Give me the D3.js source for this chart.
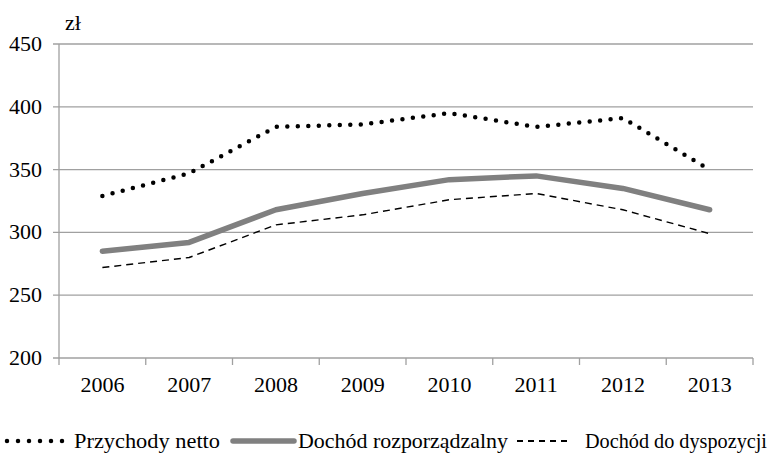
<!DOCTYPE html>
<html><head><meta charset="utf-8">
<script src="https://cdn.jsdelivr.net/npm/d3@7"></script>
</head>
<body style="margin:0">
<svg id="chart" width="774" height="458"></svg>
<script>
// data
var years = ["2006", "2007", "2008", "2009", "2010", "2011", "2012", "2013"];
var przychodyNetto = [329, 347, 384, 386, 395, 384, 391, 350];
var dochodRozporzadzalny = [285, 292, 318, 331, 342, 345, 335, 318];
var dochodDoDyspozycji = [272, 280, 306, 314, 326, 331, 318, 299];
var yTicks = [200, 250, 300, 350, 400, 450];

var FONT = "Liberation Serif";

var svgWidth = 774;
var svgHeight = 458;
var margin = { top: 44, right: 21, left: 59 };
var width = svgWidth - margin.left - margin.right;
var height = 358 - margin.top;

var svg = d3.select("#chart");

var g = svg.append("g")
  .attr("transform", `translate(${margin.left}, ${margin.top})`);

var x = d3.scaleBand().domain(years).range([0, width]);
var y = d3.scaleLinear().domain([200, 450]).range([height, 0]);

// gridlines
g.selectAll("line.grid")
  .data(yTicks)
  .join("line")
  .attr("x1", -6).attr("x2", width)
  .attr("y1", function (d) { return y(d); })
  .attr("y2", function (d) { return y(d); })
  .attr("stroke", "#a0a0a0").attr("stroke-width", 1.3);

// y labels
g.selectAll("text.ylab")
  .data(yTicks)
  .join("text")
  .attr("x", -17)
  .attr("y", function (d) { return y(d) + 7; })
  .attr("text-anchor", "end")
  .attr("font-size", 22)
  .attr("font-family", FONT)
  .text(function (d) { return d; });

// left axis line
g.append("line")
  .attr("x1", 0).attr("x2", 0).attr("y1", 0).attr("y2", height)
  .attr("stroke", "#a0a0a0").attr("stroke-width", 1.3);

// x ticks between categories
g.selectAll("line.xtick")
  .data(d3.range(years.length + 1))
  .join("line")
  .attr("x1", function (i) { return i * x.step(); })
  .attr("x2", function (i) { return i * x.step(); })
  .attr("y1", height).attr("y2", height + 7)
  .attr("stroke", "#a0a0a0").attr("stroke-width", 1.3);

g.selectAll("text.xlab")
  .data(years)
  .join("text")
  .attr("x", function (d) { return x(d) + x.bandwidth() / 2; })
  .attr("y", height + 34)
  .attr("text-anchor", "middle")
  .attr("font-size", 22)
  .attr("font-family", FONT)
  .text(function (d) { return d; });

// unit label
svg.append("text").attr("x", 65).attr("y", 30).attr("font-size", 22).attr("font-family", FONT).text("zł");

var line = d3.line()
  .x(function (d, i) { return x(years[i]) + x.bandwidth() / 2; })
  .y(function (d) { return y(d); });

var series = [
  { name: "Przychody netto", values: przychodyNetto, stroke: "#000", width: 4.5, dash: "0 10.5", cap: "round" },
  { name: "Dochód rozporządzalny", values: dochodRozporzadzalny, stroke: "#808080", width: 5.5, dash: null, cap: "round" },
  { name: "Dochód do dyspozycji", values: dochodDoDyspozycji, stroke: "#000", width: 1.4, dash: "7 5", cap: "butt" }
];

g.selectAll("path.series")
  .data(series)
  .join("path")
  .attr("fill", "none")
  .attr("stroke", function (d) { return d.stroke; })
  .attr("stroke-width", function (d) { return d.width; })
  .attr("stroke-dasharray", function (d) { return d.dash; })
  .attr("stroke-linecap", function (d) { return d.cap; })
  .attr("stroke-linejoin", "round")
  .attr("d", function (d) { return line(d.values); });

// legend
var legendY = 441;
var legendItems = [
  { s: series[0], x1: 7, x2: 66, tx: 74, tw: 146, dash: "0 11", w: 4.5 },
  { s: series[1], x1: 233, x2: 294, tx: 298, tw: 210, dash: null, w: 5.5 },
  { s: series[2], x1: 517, x2: 572, tx: 585, tw: 182, dash: "6 5", w: 1.8 }
];
legendItems.forEach(function (it) {
  svg.append("line")
    .attr("x1", it.x1).attr("x2", it.x2).attr("y1", legendY).attr("y2", legendY)
    .attr("stroke", it.s.stroke)
    .attr("stroke-width", it.w)
    .attr("stroke-dasharray", it.dash)
    .attr("stroke-linecap", it.s.cap);
  svg.append("text")
    .attr("x", it.tx).attr("y", legendY + 7)
    .attr("font-size", 21)
    .attr("font-family", FONT)
    .attr("textLength", it.tw)
    .attr("lengthAdjust", "spacingAndGlyphs")
    .text(it.s.name);
});
</script>
</body></html>
